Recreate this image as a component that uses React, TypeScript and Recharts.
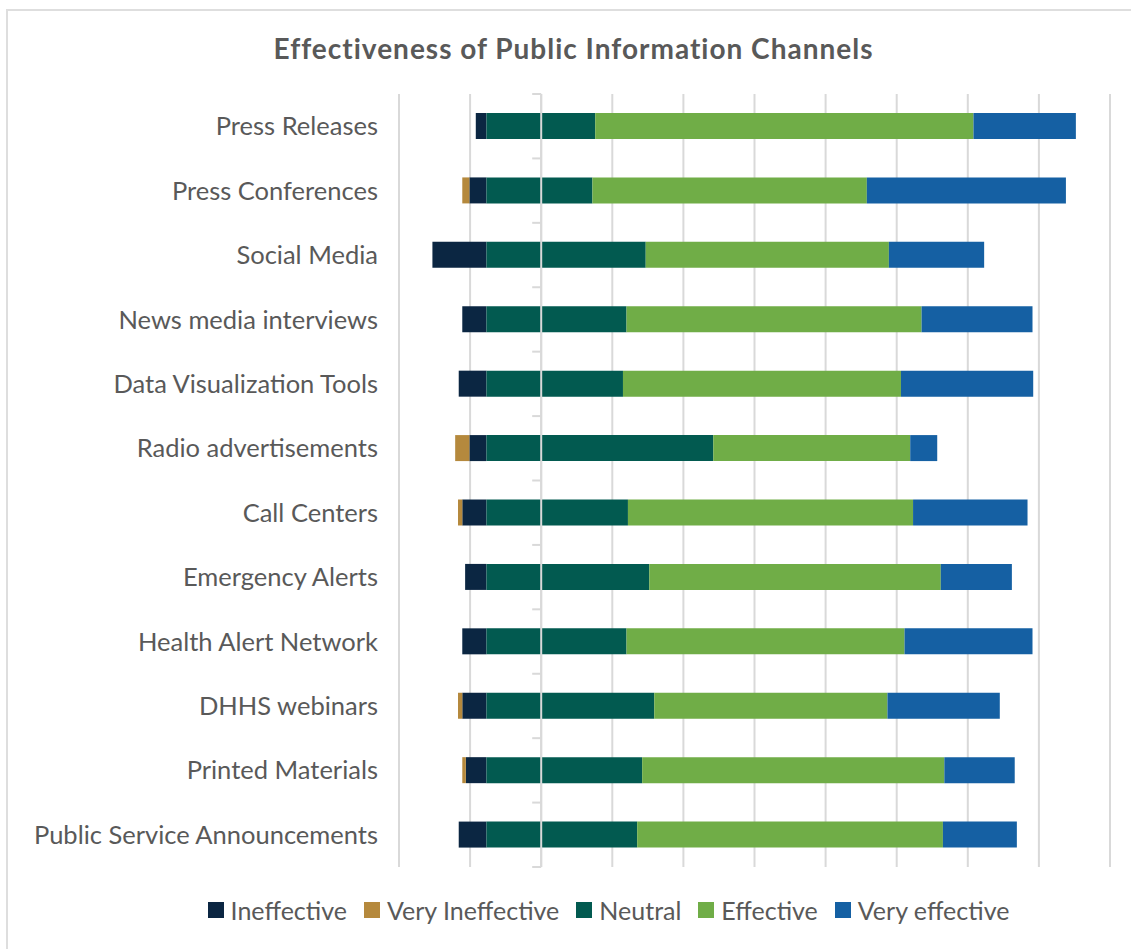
import React from 'react';
import { BarChart, Bar, XAxis, YAxis, CartesianGrid, Legend, ReferenceLine } from 'recharts';

const categories = [
  'Press Releases',
  'Press Conferences',
  'Social Media',
  'News media interviews',
  'Data Visualization Tools',
  'Radio advertisements',
  'Call Centers',
  'Emergency Alerts',
  'Health Alert Network',
  'DHHS webinars',
  'Printed Materials',
  'Public Service Announcements',
];

// left of the neutral baseline
const ineffective = [1.5, 2.4, 7.6, 3.4, 3.9, 2.4, 3.4, 3.0, 3.4, 3.4, 2.9, 3.9];
const veryIneffective = [0, 1.0, 0, 0, 0, 2.0, 0.6, 0, 0, 0.6, 0.5, 0];
// right of the neutral baseline
const neutral = [15.3, 14.9, 22.4, 19.7, 19.2, 31.9, 19.9, 22.9, 19.7, 23.6, 21.9, 21.2];
const effective = [53.2, 38.6, 34.2, 41.5, 39.1, 27.7, 40.1, 41.0, 39.1, 32.8, 42.5, 43.0];
const veryEffective = [14.4, 28.0, 13.4, 15.6, 18.6, 3.8, 16.1, 10.0, 18.0, 15.8, 9.9, 10.4];

const gridStart = -12.3;
const gridTicks = [0, 1, 2, 3, 4, 5, 6, 7, 8, 9, 10].map((k) => gridStart + k * 10);
const axisCross = gridTicks[2];

const data = categories.map((name, i) => ({
  name,
  ineffective: -ineffective[i],
  veryIneffective: -veryIneffective[i],
  neutral: neutral[i],
  effective: effective[i],
  veryEffective: veryEffective[i],
}));

const series = [
  { key: 'ineffective', name: 'Ineffective', color: '#0b2642' },
  { key: 'veryIneffective', name: 'Very Ineffective', color: '#b5893d' },
  { key: 'neutral', name: 'Neutral', color: '#025a50' },
  { key: 'effective', name: 'Effective', color: '#70ad47' },
  { key: 'veryEffective', name: 'Very effective', color: '#1560a3' },
];

const FONT = 'Lato, "Open Sans", sans-serif';
const TEXT = '#595959';

const AxisWithTicks = (props: any) => {
  const { x1, y1, y2 } = props;
  const top = Math.min(y1, y2);
  const bottom = Math.max(y1, y2);
  const step = (bottom - top) / categories.length;
  return (
    <g>
      <line x1={x1} x2={x1} y1={top} y2={bottom} stroke="#d9d9d9" strokeWidth={2} />
      {categories.map((_, i) => (
        <line key={i} x1={x1 - 9} x2={x1} y1={top + i * step} y2={top + i * step} stroke="#d9d9d9" strokeWidth={2} />
      ))}
      <line x1={x1 - 9} x2={x1} y1={bottom} y2={bottom} stroke="#d9d9d9" strokeWidth={2} />
    </g>
  );
};

const renderLegend = () => (
  <div style={{ display: 'flex', justifyContent: 'center', paddingLeft: 103, fontFamily: FONT, fontSize: 25, color: TEXT }}>
    {series.map((s) => (
      <div key={s.key} style={{ display: 'flex', alignItems: 'center', marginRight: 17 }}>
        <span style={{ width: 16, height: 16, background: s.color, marginRight: 7, display: 'inline-block' }} />
        <span>{s.name}</span>
      </div>
    ))}
  </div>
);

export default function App() {
  return (
    <div style={{ position: 'absolute', left: 0, top: 0, width: 1131, height: 949, background: '#fff', fontFamily: FONT }}>
      <div style={{ position: 'absolute', left: 6, top: 9, right: 0, bottom: 0, borderLeft: '2px solid #dedede', borderTop: '2px solid #dedede' }} />
      <div style={{ position: 'absolute', left: 8, top: 34, width: 1131, textAlign: 'center', fontWeight: 700, fontSize: 28, letterSpacing: 1, lineHeight: '28px', color: TEXT }}>
        Effectiveness of Public Information Channels
      </div>
      <div style={{ position: 'absolute', left: 0, top: 0 }}>
        <BarChart
          width={1131}
          height={949}
          data={data}
          layout="vertical"
          stackOffset="sign"
          barSize={26}
          margin={{ top: 94, right: 21, left: 0, bottom: 82 }}
        >
          <CartesianGrid horizontal={false} stroke="#d9d9d9" strokeWidth={2} />
          <XAxis
            type="number"
            domain={[gridTicks[0], gridTicks[gridTicks.length - 1]]}
            ticks={gridTicks}
            interval={0}
            tick={() => <g />}
            tickLine={false}
            axisLine={false}
            height={0}
          />
          <YAxis
            type="category"
            dataKey="name"
            width={399}
            tickSize={0}
            tickMargin={21}
            axisLine={false}
            tickLine={false}
            tick={{ fill: TEXT, fontSize: 25.5, fontFamily: FONT }}
          />
          <Legend
            layout="horizontal"
            verticalAlign="middle"
            align="center"
            content={renderLegend}
            wrapperStyle={{ top: 895, left: 0, width: 1131 }}
          />
          {series.map((s) => (
            <Bar key={s.key} dataKey={s.key} name={s.name} stackId="a" fill={s.color} isAnimationActive={false} />
          ))}
          <ReferenceLine x={axisCross} shape={AxisWithTicks} ifOverflow="extendDomain" />
        </BarChart>
      </div>
    </div>
  );
}
